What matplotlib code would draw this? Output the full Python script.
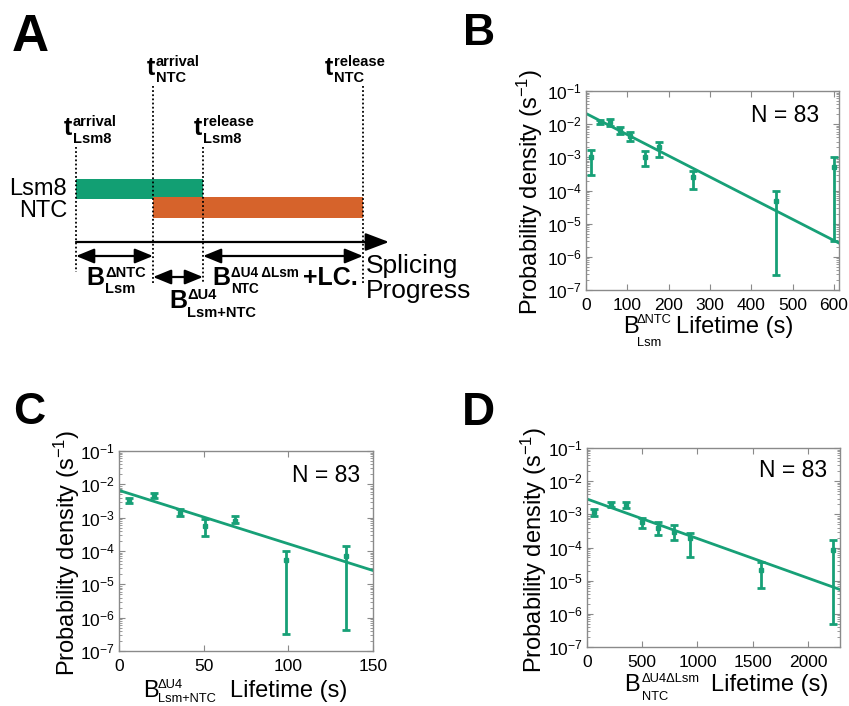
import numpy as np
import matplotlib
matplotlib.use("Agg")
import matplotlib.pyplot as plt
from matplotlib.ticker import LogLocator, NullFormatter

plt.rcParams['font.family'] = ['Liberation Sans', 'DejaVu Sans']
plt.rcParams['mathtext.fontset'] = 'custom'
plt.rcParams['mathtext.rm'] = 'Liberation Sans'
plt.rcParams['mathtext.it'] = 'Liberation Sans:italic'
plt.rcParams['mathtext.bf'] = 'Liberation Sans:bold'

GREEN = '#17a077'
ORANGE = '#d6632b'
BAR_GREEN = '#129f73'

# ---------------- data ----------------
# Panel B
b_x = [11, 35, 59, 82, 106, 142, 177, 259, 459, 601]
b_y = [1.0e-3, 1.2e-2, 1.15e-2, 6.6e-3, 4.3e-3, 1.0e-3, 2.0e-3, 2.6e-4, 4.8e-5, 5.1e-4]
b_lo = [3.0e-4, 1.0e-2, 9.0e-3, 5.2e-3, 3.2e-3, 5.5e-4, 1.0e-3, 1.1e-4, 2.8e-7, 3.0e-6]
b_hi = [1.7e-3, 1.37e-2, 1.4e-2, 8.5e-3, 5.8e-3, 1.6e-3, 3.0e-3, 3.9e-4, 9.5e-5, 1.0e-3]
b_fit_x = [0, 612]
b_fit_y = [2.1e-2, 2.6e-6]
b_xticks = [0, 100, 200, 300, 400, 500, 600]

# Panel C
c_x = [5.9, 20.9, 36, 51, 68.6, 98.6, 134]
c_y = [3.3e-3, 4.7e-3, 1.4e-3, 5.6e-4, 8.0e-4, 5.3e-5, 7.0e-5]
c_lo = [2.8e-3, 4.0e-3, 1.1e-3, 2.8e-4, 6.7e-4, 3.2e-7, 4.3e-7]
c_hi = [3.9e-3, 5.5e-3, 1.8e-3, 9.0e-4, 1.1e-3, 1.0e-4, 1.4e-4]
c_fit_x = [0, 150]
c_fit_y = [6.6e-3, 2.6e-5]
c_xticks = [0, 50, 100, 150]

# Panel D
d_x = [66, 214, 356, 498, 646, 790, 929, 1578, 2223]
d_y = [1.15e-3, 2.0e-3, 1.9e-3, 5.7e-4, 3.9e-4, 3.0e-4, 1.9e-4, 2.1e-5, 8.7e-5]
d_lo = [9.0e-4, 1.65e-3, 1.55e-3, 3.8e-4, 2.4e-4, 1.7e-4, 5.2e-5, 6.0e-6, 5.0e-7]
d_hi = [1.45e-3, 2.4e-3, 2.3e-3, 8.0e-4, 5.8e-4, 4.9e-4, 2.8e-4, 3.7e-5, 1.66e-4]
d_fit_x = [0, 2290]
d_fit_y = [2.9e-3, 5.4e-6]
d_xticks = [0, 500, 1000, 1500, 2000]

N_text = 'N = 83'
ylab = r'Probability density (s$^{-1}$)'

W, H = 849, 706
fig = plt.figure(figsize=(W / 100, H / 100), dpi=100)

# ---------------- Panel A (pixel-coordinate overlay) ----------------
axA = fig.add_axes([0, 0, 1, 1])
axA.set_xlim(0, W)
axA.set_ylim(H, 0)
axA.axis('off')

# panel letters
axA.text(12, 51, 'A', fontsize=37, fontweight='bold', va='baseline', ha='left')
axA.text(463, 45, 'B', fontsize=32, fontweight='bold', va='baseline', ha='left')
axA.text(13, 424, 'C', fontsize=32, fontweight='bold', va='baseline', ha='left')
axA.text(462, 425, 'D', fontsize=33, fontweight='bold', va='baseline', ha='left')

# bars
axA.add_patch(plt.Rectangle((76, 179), 127, 20, color=BAR_GREEN, lw=0, zorder=2))
axA.add_patch(plt.Rectangle((153, 197), 210, 21, color=ORANGE, lw=0, zorder=3))

# dotted verticals
for x0, y0, y1 in [(76, 147, 272), (153, 86, 283), (203, 147, 283), (363, 86, 283)]:
    axA.plot([x0, x0], [y0, y1], color='k', lw=1.3, ls=(0, (1, 1.3)), zorder=4)

axA.text(67, 195, 'Lsm8', fontsize=17, ha='right', va='baseline')
axA.text(67, 217, 'NTC', fontsize=17, ha='right', va='baseline')

# main arrow
axA.annotate('', xy=(389, 242), xytext=(76, 242),
             arrowprops=dict(arrowstyle='-|>,head_length=1.45,head_width=0.55',
                             mutation_scale=10, lw=1.6, color='k',
                             shrinkA=0, shrinkB=0), zorder=5)
# double arrows
for xa, xb, yy in [(76, 153, 256), (153, 203, 277), (203, 363, 256)]:
    axA.annotate('', xy=(xb, yy), xytext=(xa, yy),
                 arrowprops=dict(arrowstyle='<|-|>,head_length=1.1,head_width=0.45',
                                 mutation_scale=10, lw=1.6, color='k',
                                 shrinkA=0, shrinkB=0), zorder=5)

axA.text(366, 273, 'Splicing', fontsize=19, ha='left', va='baseline')
axA.text(366, 298, 'Progress', fontsize=19, ha='left', va='baseline')


def lab(x, base, main, sup, sub, xs, sup_base, sub_base, msize=18, ssize=10.5,
        weight='bold'):
    axA.text(x, base, main, fontsize=msize, fontweight=weight, ha='left', va='baseline')
    axA.text(xs, sup_base, sup, fontsize=ssize, fontweight=weight, ha='left', va='baseline')
    axA.text(xs, sub_base, sub, fontsize=ssize, fontweight=weight, ha='left', va='baseline')


lab(64, 135, 't', 'arrival', 'Lsm8', 73, 126, 143)
lab(147, 75, 't', 'arrival', 'NTC', 156, 66, 82)
lab(194, 135, 't', 'release', 'Lsm8', 203, 126, 143)
lab(325, 75, 't', 'release', 'NTC', 334, 66, 82)
lab(86, 285, 'B', 'ΔNTC', 'Lsm', 105, 277, 293)
lab(169, 308, 'B', 'ΔU4', 'Lsm+NTC', 187, 299, 317)
lab(212, 285, 'B', 'ΔU4 ΔLsm', 'NTC', 231, 277, 293, ssize=9.8)
axA.text(303, 285, '+LC.', fontsize=18, fontweight='bold', ha='left', va='baseline')

# x-axis labels of panels B, C, D (drawn in pixel coordinates)
lab(623, 333, 'B', 'ΔNTC', 'Lsm', 637, 323, 346, msize=17, ssize=9.3, weight='normal')
axA.text(676, 333, 'Lifetime (s)', fontsize=17, ha='left', va='baseline')
lab(143, 697, 'B', 'ΔU4', 'Lsm+NTC', 158, 688, 702, msize=17, ssize=9.3, weight='normal')
axA.text(230, 697, 'Lifetime (s)', fontsize=17, ha='left', va='baseline')
lab(624, 691, 'B', 'ΔU4ΔLsm', 'NTC', 642, 682, 700, msize=17, ssize=9.3, weight='normal')
axA.text(711, 691, 'Lifetime (s)', fontsize=17, ha='left', va='baseline')


# ---------------- data panels ----------------
def panel(rect, xs, ys, lo, hi, fx, fy, xlim, xticks, ylab_pos, n_pos):
    ax = fig.add_axes(rect)
    ys = np.array(ys); lo = np.array(lo); hi = np.array(hi)
    ax.plot(fx, fy, color=GREEN, lw=2, zorder=2)
    ax.errorbar(xs, ys, yerr=[ys - lo, hi - ys], fmt='s', ms=3.5, color=GREEN,
                ecolor=GREEN, elinewidth=2, capsize=3, capthick=2, zorder=3)
    ax.set_yscale('log')
    ax.set_ylim(1e-7, 1e-1)
    ax.set_xlim(*xlim)
    ax.set_xticks(xticks)
    ax.yaxis.set_major_locator(LogLocator(base=10, numticks=10))
    ax.yaxis.set_minor_locator(LogLocator(base=10, subs=np.arange(2, 10), numticks=10))
    ax.yaxis.set_minor_formatter(NullFormatter())
    for s in ax.spines.values():
        s.set_color('#8a8a8a')
        s.set_linewidth(1.0)
    ax.tick_params(which='both', direction='in', top=True, right=True,
                   color='#8a8a8a', labelsize=12.5, labelcolor='black')
    ax.tick_params(which='major', length=4, width=0.8)
    ax.tick_params(which='minor', length=2, width=0.6)
    ax.tick_params(axis='y', pad=3)
    ax.tick_params(axis='x', pad=6)
    ax.set_ylabel(ylab, fontsize=17, va='center')
    ax.yaxis.set_label_coords(*ylab_pos)
    ax.text(n_pos[0], n_pos[1], N_text, transform=ax.transAxes, fontsize=16.5,
            ha='right', va='center')
    return ax


panel([586 / W, 1 - 290 / H, 253 / W, 199 / H], b_x, b_y, b_lo, b_hi, b_fit_x, b_fit_y,
      (0, 612), b_xticks, (-0.221, 0.495), (0.921, 0.879))

panel([119 / W, 1 - 651 / H, 254 / W, 200 / H], c_x, c_y, c_lo, c_hi, c_fit_x, c_fit_y,
      (0, 150), c_xticks, (-0.205, 0.49), (0.949, 0.88))

panel([587 / W, 1 - 647 / H, 253 / W, 199 / H], d_x, d_y, d_lo, d_hi, d_fit_x, d_fit_y,
      (0, 2290), d_xticks, (-0.209, 0.49), (0.949, 0.889))

fig.savefig('out.png', dpi=100)
